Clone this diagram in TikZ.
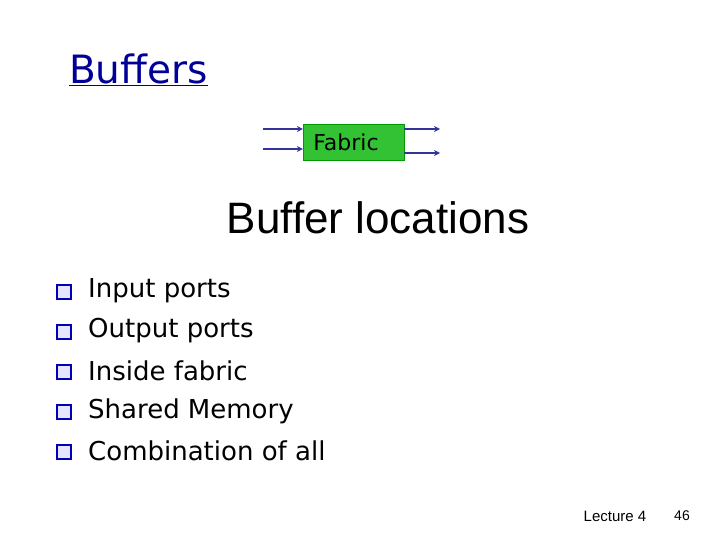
\documentclass[tikz,border=0pt]{standalone}
\usetikzlibrary{arrows.meta}
\usepackage{fontspec}
\setmainfont{DejaVu Sans}
\newfontfamily\libsans{Liberation Sans}
\begin{document}
\begin{tikzpicture}[x=1pt,y=-1pt,
  arr/.style={draw=blue!50!black!80, line width=1.3pt, -{Stealth[length=6pt,width=6pt]}},
  item/.style={anchor=west, font=\fontsize{26}{30}\selectfont, inner sep=0pt}]
\useasboundingbox (0,0) rectangle (720,540);
\node[anchor=west, text=blue!60!black, font=\fontsize{39}{44}\selectfont, inner sep=0pt] (t) at (69,70) {\underline{Buf{}fers}};
\node[fill=green!70!black!80, draw=green!60!black, minimum width=101pt, minimum height=36pt, inner sep=0pt] (f) at (353.5,142) {};
\node[font=\fontsize{22}{26}\selectfont, inner sep=0pt] (ft) at (346,142) {Fabric};
\coordinate (i1) at (263,129); \coordinate (i2) at (263,149);
\coordinate (o1) at (440,129); \coordinate (o2) at (440,153);
\draw[arr] (i1) -- (i1 -| f.west);
\draw[arr] (i2) -- (i2 -| f.west);
\draw[arr] (o1 -| f.east) -- (o1);
\draw[arr] (o2 -| f.east) -- (o2);
\node[font=\libsans\fontsize{44}{50}\selectfont] (h) at (378,218) {Buf{}fer locations};
\foreach \y/\t [count=\i] in {291/Input ports,331/Output ports,371/Inside fabric,411/Shared Memory,451/Combination of all}{
  \node[draw=blue!70!black, fill=blue!10, line width=1.2pt, minimum size=14pt, inner sep=0pt] (b\i) at (64,\y+1) {};
  \node[item] (l\i) at (88,\y) {\t};
}
\node[font=\libsans\fontsize{15}{18}\selectfont] (lec) at (615,516) {Lecture 4};
\node[font=\libsans\fontsize{14}{17}\selectfont] (pg) at (682,516) {46};
\end{tikzpicture}
\end{document}
